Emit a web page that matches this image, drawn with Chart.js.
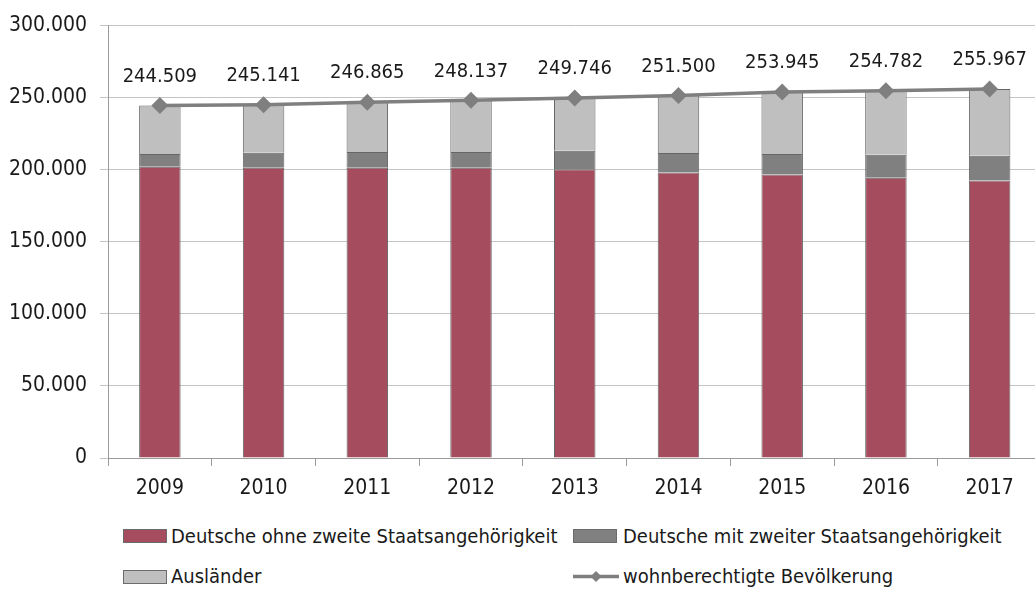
<!DOCTYPE html>
<html>
<head>
<meta charset="utf-8">
<script src="https://cdn.jsdelivr.net/npm/chart.js@4/dist/chart.umd.min.js"></script>
<style>
  body { margin: 0; overflow: hidden; background: #fff; font-family: "DejaVu Sans Condensed", "DejaVu Sans", sans-serif; color: #1a1a1a; }
  #wrap { position: relative; width: 1035px; height: 589px; overflow: hidden; }
  #grafico { position: absolute; left: 0; top: 0; }
  .leg { position: absolute; font-size: 20px; line-height: 24px; white-space: nowrap; }
  .box { position: absolute; width: 42px; height: 12px; border: 1px solid #6b6b6b; }
</style>
</head>
<body>
<div id="wrap">
  <canvas id="grafico" width="1050" height="510"></canvas>
  <div class="box" style="left:123px;top:529px;background:#A54D5E"></div>
  <div class="leg" style="left:171px;top:524px">Deutsche ohne zweite Staatsangehörigkeit</div>
  <div class="box" style="left:573px;top:529px;background:#808080"></div>
  <div class="leg" style="left:623px;top:524px">Deutsche mit zweiter Staatsangehörigkeit</div>
  <div class="box" style="left:123px;top:570px;background:#BFBFBF"></div>
  <div class="leg" style="left:171px;top:564px">Ausländer</div>
  <canvas id="legLinie" width="48" height="16" style="position:absolute;left:572px;top:568px"></canvas>
  <div class="leg" style="left:623px;top:564px">wohnberechtigte Bevölkerung</div>
</div>
<script>
const jahre = ['2009', '2010', '2011', '2012', '2013', '2014', '2015', '2016', '2017'];
const deutscheOhne = [202000, 201300, 201300, 201300, 200300, 198000, 196700, 194400, 192600];
const deutscheMit = [8900, 10500, 11000, 11000, 12900, 13600, 14200, 16000, 17100];
const auslaender = [33600, 33300, 34600, 35800, 36500, 39900, 43000, 44400, 46300];
const bevoelkerung = [244509, 245141, 246865, 248137, 249746, 251500, 253945, 254782, 255967];
const yTicks = [0, 50000, 100000, 150000, 200000, 250000, 300000];

const schrift = '"DejaVu Sans Condensed", "DejaVu Sans", sans-serif';

function formatar(v) {
  return String(Math.round(v)).replace(/\B(?=(\d{3})+(?!\d))/g, '.');
}

// Werte über den Punkten
const wertePlugin = {
  id: 'werte',
  afterDatasetsDraw(chart) {
    const meta = chart.getDatasetMeta(3);
    const ctx = chart.ctx;
    ctx.save();
    ctx.font = '20px ' + schrift;
    ctx.fillStyle = '#1a1a1a';
    ctx.textAlign = 'center';
    ctx.textBaseline = 'middle';
    meta.data.forEach((p, i) => {
      ctx.fillText(formatar(bevoelkerung[i]), p.x, p.y - 29);
    });
    ctx.restore();
  }
};

const balken = { borderColor: '#666666', borderWidth: 1, barPercentage: 0.4, categoryPercentage: 1, order: 1 };

new Chart(document.getElementById('grafico'), {
  data: {
    labels: jahre,
    datasets: [
      Object.assign({ type: 'bar', label: 'Deutsche ohne zweite Staatsangehörigkeit', data: deutscheOhne, backgroundColor: '#A54D5E' }, balken),
      Object.assign({ type: 'bar', label: 'Deutsche mit zweiter Staatsangehörigkeit', data: deutscheMit, backgroundColor: '#808080' }, balken),
      Object.assign({ type: 'bar', label: 'Ausländer', data: auslaender, backgroundColor: '#BFBFBF' }, balken),
      {
        type: 'line', label: 'wohnberechtigte Bevölkerung', data: bevoelkerung, stack: 'gesamt',
        borderColor: '#7f7f7f', backgroundColor: '#7f7f7f', borderWidth: 3.5,
        pointStyle: 'rectRot', pointRadius: 8.5, pointBorderWidth: 0,
        tension: 0, order: 0, clip: false
      }
    ]
  },
  options: {
    responsive: false,
    animation: false,
    devicePixelRatio: 1,
    layout: { padding: { top: 20, right: 3, left: 0, bottom: 0 } },
    plugins: { legend: { display: false }, tooltip: { enabled: false } },
    scales: {
      x: {
        stacked: true,
        offset: true,
        grid: { offset: true, drawOnChartArea: false, color: '#9a9a9a', tickLength: 8 },
        border: { color: '#9a9a9a' },
        ticks: { font: { family: schrift, size: 21 }, color: '#1a1a1a', padding: 10 },
        afterFit: s => { s.height = 52; }
      },
      y: {
        stacked: true,
        min: 0,
        max: 300000,
        afterBuildTicks: s => { s.ticks = yTicks.map(v => ({ value: v })); },
        grid: { color: '#c4c4c4', tickLength: 8 },
        border: { color: '#9a9a9a' },
        ticks: { font: { family: schrift, size: 21 }, color: '#1a1a1a', padding: 13, callback: v => formatar(v) },
        afterFit: s => { s.width = 108; }
      }
    }
  },
  plugins: [wertePlugin]
});

// Legendensymbol für die Linie
const lc = document.getElementById('legLinie').getContext('2d');
lc.strokeStyle = '#7f7f7f';
lc.lineWidth = 3.5;
lc.beginPath(); lc.moveTo(1, 8.5); lc.lineTo(47, 8.5); lc.stroke();
lc.fillStyle = '#7f7f7f';
lc.beginPath(); lc.moveTo(24, 3); lc.lineTo(29.5, 8.5); lc.lineTo(24, 14); lc.lineTo(18.5, 8.5); lc.closePath(); lc.fill();
</script>
</body>
</html>
